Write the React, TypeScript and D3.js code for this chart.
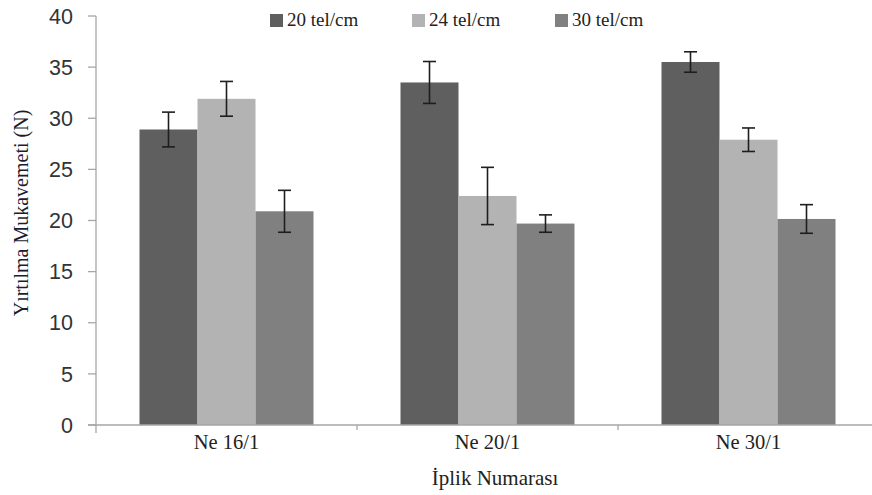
import React from "react";
import * as d3 from "d3";

const categories = ["Ne 16/1", "Ne 20/1", "Ne 30/1"];
const seriesNames = ["20 tel/cm", "24 tel/cm", "30 tel/cm"];
const seriesColors = ["#5f5f5f", "#b3b3b3", "#808080"];
const values20 = [28.9, 33.5, 35.5];
const values24 = [31.9, 22.4, 27.9];
const values30 = [20.9, 19.7, 20.15];
const err20 = [1.7, 2.05, 1.0];
const err24 = [1.7, 2.8, 1.15];
const err30 = [2.05, 0.85, 1.4];
const yTicks = [0, 5, 10, 15, 20, 25, 30, 35, 40];

const W = 872;
const H = 495;

export default function App() {
  const x0 = d3
    .scaleBand<string>()
    .domain(categories)
    .range([96, 879])
    .paddingInner(1 / 3)
    .paddingOuter(1 / 6);
  const x1 = d3
    .scaleBand<string>()
    .domain(seriesNames)
    .range([0, x0.bandwidth()])
    .padding(0);
  const y = d3.scaleLinear().domain([0, 40]).range([425, 16]);

  const values = [values20, values24, values30];
  const errs = [err20, err24, err30];
  const step = x0.step();
  const boundaries = categories.slice(1).map((c) => (x0(c) as number) - (step - x0.bandwidth()) / 2);

  const legendX = [270, 412, 555];

  return (
    <svg width={W} height={H} style={{ position: "absolute", left: 0, top: 0, background: "#fff" }}>
      <rect x={0} y={0} width={W} height={H} fill="#fff" />
      {/* bars */}
      {categories.map((c, ci) =>
        seriesNames.map((s, si) => {
          const v = values[si][ci];
          const bx = (x0(c) as number) + (x1(s) as number);
          return (
            <rect
              key={c + s}
              x={bx}
              y={y(v)}
              width={x1.bandwidth()}
              height={y(0) - y(v)}
              fill={seriesColors[si]}
            />
          );
        })
      )}
      {/* error bars */}
      {categories.map((c, ci) =>
        seriesNames.map((s, si) => {
          const v = values[si][ci];
          const e = errs[si][ci];
          const cx = (x0(c) as number) + (x1(s) as number) + x1.bandwidth() / 2;
          return (
            <g key={"e" + c + s} stroke="#1e1e1e" strokeWidth={1.6}>
              <line x1={cx} x2={cx} y1={y(v + e)} y2={y(v - e)} />
              <line x1={cx - 6.5} x2={cx + 6.5} y1={y(v + e)} y2={y(v + e)} />
              <line x1={cx - 6.5} x2={cx + 6.5} y1={y(v - e)} y2={y(v - e)} />
            </g>
          );
        })
      )}
      {/* axes */}
      <line x1={96} x2={96} y1={y(40)} y2={433} stroke="#a6a6a6" strokeWidth={1.3} />
      <line x1={88} x2={W} y1={y(0)} y2={y(0)} stroke="#a6a6a6" strokeWidth={1.3} />
      {yTicks.map((t) => (
        <g key={"t" + t}>
          <line x1={88} x2={96} y1={y(t)} y2={y(t)} stroke="#a6a6a6" strokeWidth={1.3} />
          <text
            x={73}
            y={y(t)}
            dy="0.36em"
            textAnchor="end"
            fontFamily="'Liberation Sans', Arial, sans-serif"
            fontSize={21.5}
            fill="#333"
          >
            {t}
          </text>
        </g>
      ))}
      {boundaries.map((b, i) => (
        <line key={"b" + i} x1={b} x2={b} y1={y(0)} y2={y(0) + 5} stroke="#a6a6a6" strokeWidth={1.3} />
      ))}
      {categories.map((c) => (
        <text
          key={"xl" + c}
          x={(x0(c) as number) + x0.bandwidth() / 2}
          y={449}
          textAnchor="middle"
          fontFamily="'Liberation Serif', 'Times New Roman', serif"
          fontSize={20.5}
          fill="#222"
        >
          {c}
        </text>
      ))}
      <text
        x={495}
        y={485}
        textAnchor="middle"
        fontFamily="'Liberation Serif', 'Times New Roman', serif"
        fontSize={21}
        fill="#222"
      >
        İplik Numarası
      </text>
      <text
        transform={`translate(28,213) rotate(-90)`}
        textAnchor="middle"
        fontFamily="'Liberation Serif', 'Times New Roman', serif"
        fontSize={20}
        fill="#1c1c30"
      >
        Yırtılma Mukavemeti (N)
      </text>
      {/* legend */}
      {seriesNames.map((s, i) => (
        <g key={"lg" + s}>
          <rect x={legendX[i]} y={14} width={13} height={13} fill={seriesColors[i]} />
          <text
            x={legendX[i] + 17}
            y={26}
            fontFamily="'Liberation Serif', 'Times New Roman', serif"
            fontSize={19}
            fill="#222"
          >
            {s}
          </text>
        </g>
      ))}
    </svg>
  );
}
